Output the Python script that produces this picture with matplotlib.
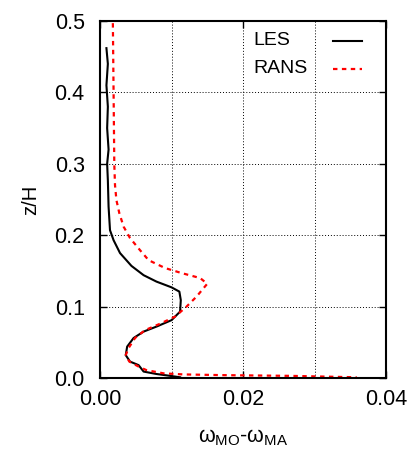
import matplotlib
matplotlib.use("Agg")
import matplotlib.pyplot as plt
from matplotlib.ticker import MultipleLocator

plt.rcParams['font.family'] = ['Liberation Sans', 'DejaVu Sans']
plt.rcParams['mathtext.fontset'] = 'custom'
plt.rcParams['mathtext.rm'] = 'Liberation Sans'
plt.rcParams['mathtext.it'] = 'Liberation Sans'

# LES profile (omega_MO - omega_MA vs z/H)
les_w = [0.0009, 0.0011, 0.0009, 0.0011, 0.0010, 0.0012, 0.0010, 0.0011, 0.0012, 0.0014,
         0.0019, 0.0028, 0.0044, 0.0061, 0.0079, 0.0100, 0.0111, 0.0113, 0.0112, 0.0100,
         0.0079, 0.0061, 0.0047, 0.0038, 0.0036, 0.0042, 0.0054, 0.0061, 0.0079, 0.0098,
         0.0112]
les_z = [0.462, 0.44, 0.41, 0.38, 0.35, 0.32, 0.30, 0.277, 0.24, 0.207,
         0.193, 0.175, 0.157, 0.144, 0.135, 0.127, 0.121, 0.109, 0.093, 0.081,
         0.072, 0.065, 0.056, 0.044, 0.032, 0.023, 0.018, 0.009, 0.0056, 0.003,
         0.001]

# RANS profile
rans_w = [0.0018, 0.0019, 0.0020, 0.0021, 0.0023, 0.0027, 0.0033, 0.0042, 0.0056, 0.0068,
          0.0091, 0.0114, 0.0140, 0.0150, 0.0135, 0.0121, 0.0105, 0.0084, 0.0063, 0.0049,
          0.0040, 0.0036, 0.0041, 0.0054, 0.0065, 0.0089, 0.0117, 0.0172, 0.0266, 0.0359]
rans_z = [0.497, 0.40, 0.30, 0.270, 0.249, 0.231, 0.212, 0.196, 0.179, 0.165,
          0.154, 0.147, 0.140, 0.132, 0.114, 0.100, 0.086, 0.076, 0.067, 0.056,
          0.042, 0.032, 0.023, 0.016, 0.011, 0.0065, 0.005, 0.004, 0.003, 0.001]

fig = plt.figure(figsize=(4.12, 4.54), dpi=100)
ax = fig.add_axes([0.2427, 0.1674, 0.6943, 0.7863])

les_style = dict(color='black', lw=1.5)
rans_style = dict(color='red', lw=1.6, dashes=(2, 2))
ax.plot(les_w, les_z, **les_style)
ax.plot(rans_w, rans_z, **rans_style)

ax.set_xlim(0, 0.04)
ax.set_ylim(0, 0.5)
ax.xaxis.set_major_locator(MultipleLocator(0.02))
ax.xaxis.set_minor_locator(MultipleLocator(0.01))
ax.yaxis.set_major_locator(MultipleLocator(0.1))
ax.xaxis.set_major_formatter(plt.FormatStrFormatter('%.2f'))
ax.yaxis.set_major_formatter(plt.FormatStrFormatter('%.1f'))
ax.tick_params(which='both', direction='in', top=True, right=True, labelsize=15.5)
ax.tick_params(axis='y', pad=11)
ax.tick_params(axis='x', pad=8)
ax.tick_params(which='major', length=5, width=1)
ax.tick_params(which='minor', length=0)
ax.grid(which='both', color='black', linestyle=(0, (1, 2)), lw=0.7)
for s in ax.spines.values():
    s.set_linewidth(1.5)

ax.set_xlabel(r'$\mathrm{\omega_{MO}}$-$\mathrm{\omega_{MA}}$', fontsize=15.5, labelpad=12)
ax.set_ylabel('z/H', fontsize=14.5, labelpad=10)

# legend: label on the left, line sample on the right (gnuplot style)
entries = [('LES', les_style, 0.945), ('RANS', rans_style, 0.866)]
for name, style, y in entries:
    ax.text(0.535, y, name, transform=ax.transAxes, fontsize=14, va='center', ha='left')
    ax.plot([0.815, 0.915], [y, y], transform=ax.transAxes, **style)

fig.savefig('out.png', dpi=100)
